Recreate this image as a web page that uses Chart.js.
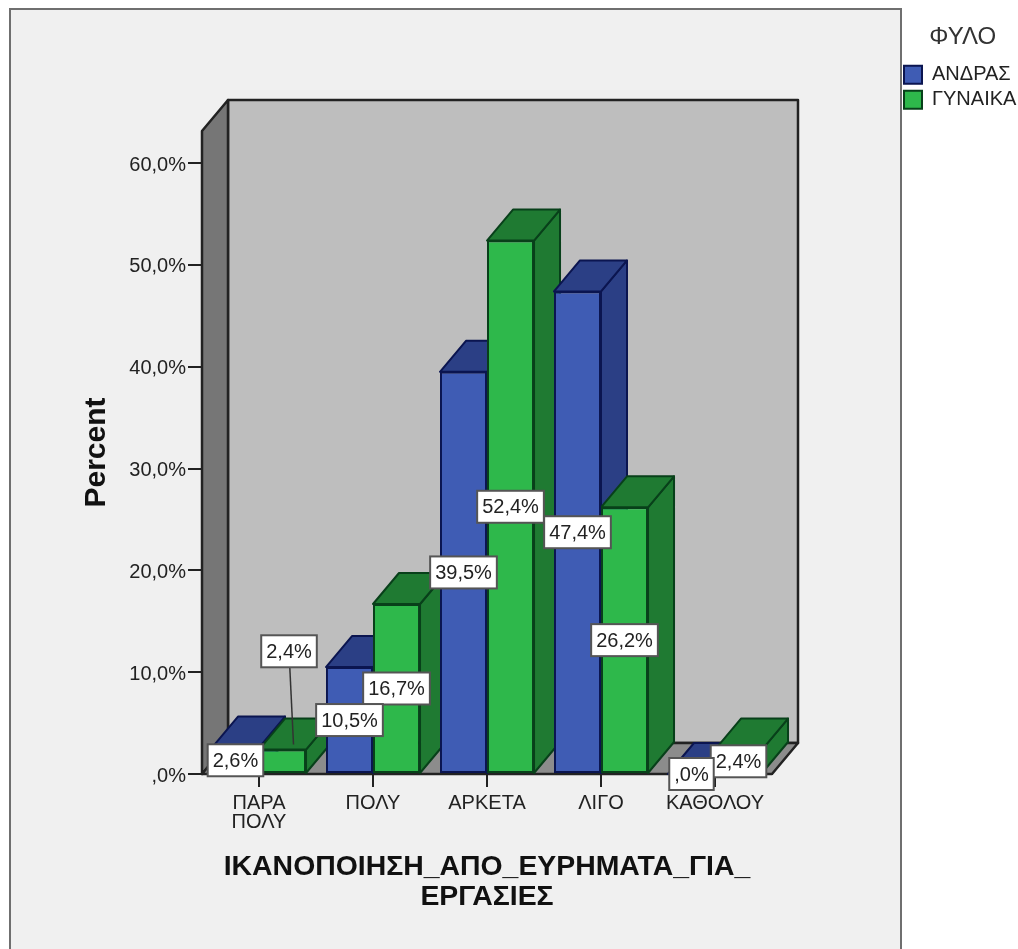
<!DOCTYPE html>
<html>
<head>
<meta charset="utf-8">
<title>ΦΥΛΟ</title>
<script src="https://cdn.jsdelivr.net/npm/chart.js@4"></script>
<style>
html,body{margin:0;padding:0;background:#fff}
canvas{display:block}
</style>
</head>
<body>
<canvas id="grafico" width="1018" height="949"></canvas>
<script>
const categories=[["ΠΑΡΑ","ΠΟΛΥ"],"ΠΟΛΥ","ΑΡΚΕΤΑ","ΛΙΓΟ","ΚΑΘΟΛΟΥ"]
const seriesNames=["ΑΝΔΡΑΣ","ΓΥΝΑΙΚΑ"]
const andras=[2.6,10.5,39.5,47.4,0]
const gynaika=[2.4,16.7,52.4,26.2,2.4]
const andrasLabels=["2,6%","10,5%","39,5%","47,4%",",0%"]
const gynaikaLabels=["2,4%","16,7%","52,4%","26,2%","2,4%"]
const yTicks=[",0%","10,0%","20,0%","30,0%","40,0%","50,0%","60,0%"]
const xTitle=["ΙΚΑΝΟΠΟΙΗΣΗ_ΑΠΟ_ΕΥΡΗΜΑΤΑ_ΓΙΑ_","ΕΡΓΑΣΙΕΣ"]

const FONT="'Liberation Sans',Arial,sans-serif"
const DX=26,DY=31

function poly(ctx,pts,fill,stroke,lw){
ctx.beginPath()
pts.forEach((p,i)=>i?ctx.lineTo(p[0],p[1]):ctx.moveTo(p[0],p[1]))
ctx.closePath()
ctx.fillStyle=fill
ctx.fill()
ctx.strokeStyle=stroke
ctx.lineWidth=lw
ctx.lineJoin="round"
ctx.stroke()
}

// painel e paredes do grafico 3D
const paredes={
id:"paredes",
beforeDraw(chart){
let ctx=chart.ctx
let a=chart.chartArea
ctx.save()
ctx.fillStyle="#fff"
ctx.fillRect(0,0,chart.width,chart.height)
ctx.fillStyle="#f0f0f0"
ctx.strokeStyle="#6f6f6f"
ctx.lineWidth=2
ctx.fillRect(10,9,891,945)
ctx.strokeRect(10,9,891,945)
poly(ctx,[[a.left+DX,a.top-DY],[a.right+DX,a.top-DY],[a.right+DX,a.bottom-DY],[a.left+DX,a.bottom-DY]],"#bebebe","#222",2.5)
poly(ctx,[[a.left,a.top],[a.left+DX,a.top-DY],[a.left+DX,a.bottom-DY],[a.left,a.bottom]],"#767676","#222",2.5)
poly(ctx,[[a.left,a.bottom],[a.left+DX,a.bottom-DY],[a.right+DX,a.bottom-DY],[a.right,a.bottom]],"#8c8c8c","#222",2.5)
ctx.restore()
},
// legenda fora da area de layout
afterLayout(chart){
let l=chart.legend
let w=l.width,h=l.height
l.left=899
l.right=899+w
l.top=18
l.bottom=18+h
}
}

const faces3d={
id:"faces3d",
beforeDatasetsDraw(chart){
let ctx=chart.ctx
let cores=[["#2b3f85","#0b1550"],["#1f7a32","#08401a"]]
ctx.save()
for(let i=0;i<categories.length;i++){
for(let d=0;d<2;d++){
let b=chart.getDatasetMeta(d).data[i]
let esq=b.x-b.width/2,dir=b.x+b.width/2
poly(ctx,[[dir,b.y],[dir+DX,b.y-DY],[dir+DX,b.base-DY],[dir,b.base]],cores[d][0],cores[d][1],2)
poly(ctx,[[esq,b.y],[esq+DX,b.y-DY],[dir+DX,b.y-DY],[dir,b.y]],cores[d][0],cores[d][1],2)
}
}
ctx.restore()
}
}

// caixas de valor: no meio da barra, so a primeira verde sobe com linha
const rotulos={
id:"rotulos",
afterDatasetsDraw(chart){
let ctx=chart.ctx
let textos=[andrasLabels,gynaikaLabels]
ctx.save()
ctx.font="20px "+FONT
ctx.textAlign="center"
ctx.textBaseline="middle"
for(let d=1;d>=0;d--){
for(let i=0;i<categories.length;i++){
let b=chart.getDatasetMeta(d).data[i]
let cx=b.x,cy=(b.y+b.base)/2
if(d==1&&i==0){
cx+=6.5
cy-=110
ctx.beginPath()
ctx.moveTo(cx,cy)
ctx.lineTo(b.x+11,b.y-5)
ctx.strokeStyle="#333"
ctx.lineWidth=1.5
ctx.stroke()
}
let w=ctx.measureText(textos[d][i]).width+10
let h=32
ctx.fillStyle="#fff"
ctx.strokeStyle="#555"
ctx.lineWidth=2
ctx.fillRect(cx-w/2,cy-h/2,w,h)
ctx.strokeRect(cx-w/2,cy-h/2,w,h)
ctx.fillStyle="#222"
ctx.fillText(textos[d][i],cx,cy+1)
}
}
ctx.restore()
}
}

new Chart(document.getElementById("grafico"),{
type:"bar",
plugins:[paredes,faces3d,rotulos],
data:{
labels:categories,
datasets:[{
label:seriesNames[0],
data:andras,
backgroundColor:"#3f5cb4",
borderColor:"#0b1550",
borderWidth:2,
borderSkipped:false
},{
label:seriesNames[1],
data:gynaika,
backgroundColor:"#2eb84b",
borderColor:"#08401a",
borderWidth:2,
borderSkipped:false
}]
},
options:{
responsive:false,
animation:false,
devicePixelRatio:1,
layout:{padding:{top:131,right:246,left:0,bottom:0}},
datasets:{bar:{categoryPercentage:0.825,barPercentage:1}},
plugins:{
tooltip:{enabled:false},
legend:{
position:"chartArea",
align:"start",
labels:{boxWidth:18,boxHeight:18,padding:5,color:"#222",font:{family:FONT,size:20}},
title:{display:true,text:"ΦΥΛΟ",color:"#333",padding:{top:7,bottom:6},font:{family:FONT,size:24}}
}
},
scales:{
x:{
afterFit(s){s.height=175},
grid:{display:true,offset:false,drawOnChartArea:false,drawTicks:true,tickLength:13,color:"#222",lineWidth:2},
border:{display:true,color:"#222",width:2},
ticks:{autoSkip:false,maxRotation:0,minRotation:0,padding:7,color:"#222",font:{family:FONT,size:20,lineHeight:0.95}},
title:{display:true,text:xTitle,color:"#111",padding:{top:0,bottom:37},font:{family:FONT,size:28.4,weight:"bold",lineHeight:1.05}}
},
y:{
min:0,
max:63.16,
afterFit(s){s.width=202},
grid:{display:true,drawOnChartArea:false,drawTicks:true,tickLength:14,color:"#222",lineWidth:2},
border:{display:true,color:"#222",width:2},
ticks:{
stepSize:10,
includeBounds:false,
padding:2,
labelOffset:2,
color:"#222",
font:{family:FONT,size:20},
callback:(v,i)=>yTicks[i]
},
title:{display:true,text:"Percent",color:"#111",padding:{top:81,bottom:0},font:{family:FONT,size:30,weight:"bold",lineHeight:1.05}}
}
}
}
})
</script>
</body>
</html>
